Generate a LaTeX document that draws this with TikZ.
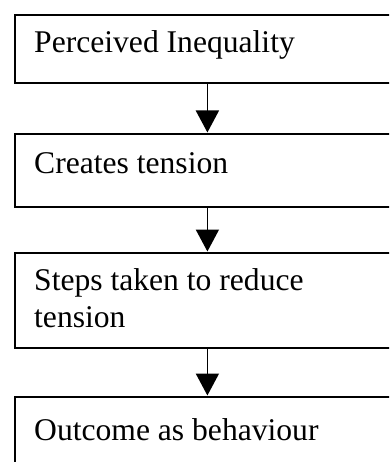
\documentclass[tikz,border=0pt]{standalone}
\usepackage{fontspec}
\setmainfont{Liberation Serif}
\usetikzlibrary{arrows.meta}
\begin{document}
\begin{tikzpicture}[x=1pt,y=-1pt,
  stagebox/.style={draw, line width=1.8pt, rectangle, inner sep=0pt,
    minimum width=385pt, anchor=north west},
  label/.style={anchor=base west, inner sep=0pt, align=left,
    font=\fontsize{31.6}{37}\selectfont},
  flow/.style={line width=1.8pt, -{Triangle[length=22pt,width=23pt]}, shorten >=0.5pt}]
  \clip (0,0) rectangle (389,462);
  % stage frames
  \node[stagebox, minimum height=68pt] (b1) at (14,14) {};
  \node[stagebox, minimum height=73pt] (b2) at (14,133) {};
  \node[stagebox, minimum height=95pt] (b3) at (14,252) {};
  \node[stagebox, minimum height=80pt] (b4) at (14,396) {};
  % stage texts (base anchor of a two-line label sits on its last line)
  \node[label] (t1) at (34,53) {Perceived Inequality};
  \node[label] (t2) at (34,174) {Creates tension};
  \node[label] (t3) at (34,327) {Steps taken to reduce\\tension};
  \node[label] (t4) at (34,440) {Outcome as behaviour};
  % connectors
  \draw[flow] (b1.south) -- (b2.north);
  \draw[flow] (b2.south) -- (b3.north);
  \draw[flow] (b3.south) -- (b4.north);
\end{tikzpicture}
\end{document}
